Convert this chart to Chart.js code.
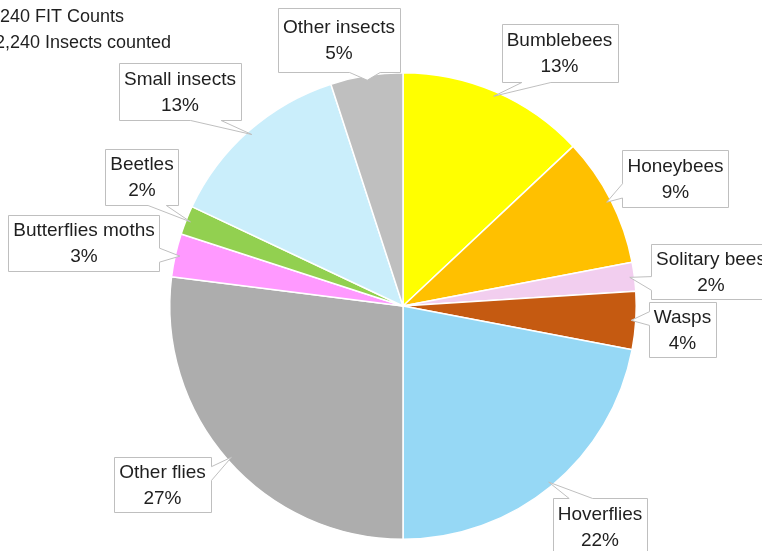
<!DOCTYPE html>
<html>
<head>
<meta charset="utf-8">
<title>FIT Counts</title>
<script src="https://cdn.jsdelivr.net/npm/chart.js@4"></script>
<style>
  html, body { margin: 0; padding: 0; background: #fff; overflow: hidden; }
  canvas { display: block; }
</style>
</head>
<body>
<canvas id="pieChart" width="762" height="551"></canvas>
<script>
// Insect groups (clockwise from 12 o'clock) and their share of the counts, %
const groups = ['Bumblebees', 'Honeybees', 'Solitary bees', 'Wasps', 'Hoverflies',
                'Other flies', 'Butterflies moths', 'Beetles', 'Small insects', 'Other insects'];
const shares = [13, 9, 2, 4, 22, 27, 3, 2, 13, 5];
const sliceColors = ['#FFFF00', '#FFC000', '#F2CEEF', '#C55A11', '#96D8F5',
                     '#ADADAD', '#FF99FF', '#92D050', '#CAEEFB', '#BFBFBF'];
const subtitleLines = ['240 FIT Counts', '2,240 Insects counted'];

// Callout boxes: centre x, centre y, box height
const calloutBoxes = [
    [559.5, 53, 58], [675.5, 178.5, 57], [711, 271.5, 55], [682.5, 329.5, 55],
    [600, 527, 58], [162.5, 484.5, 55], [84, 243, 56], [142, 177, 56],
    [180, 91.5, 57], [339, 40, 64]
];

const LABEL_FONT = '19px "Liberation Sans", Arial, sans-serif';

// Rectangle with a wedge tail pointing to (tx, ty), like an office "wedge callout"
function calloutPath(ctx, l, t, w, h, tx, ty) {
    const r = l + w, b = t + h;
    const hc = l + w / 2, vc = t + h / 2;
    const dxPos = tx - hc, dyPos = ty - vc;
    const inside = tx >= l && tx <= r && ty >= t && ty <= b;
    const x1 = l + w * (dxPos > 0 ? 7 : 2) / 12, x2 = l + w * (dxPos > 0 ? 10 : 5) / 12;
    const y1 = t + h * (dyPos > 0 ? 7 : 2) / 12, y2 = t + h * (dyPos > 0 ? 10 : 5) / 12;
    let side = '';
    if (!inside) {
        if (Math.abs(dxPos * h) > Math.abs(dyPos * w)) side = dxPos < 0 ? 'left' : 'right';
        else side = dyPos < 0 ? 'top' : 'bottom';
    }
    ctx.beginPath();
    ctx.moveTo(l, t);
    if (side === 'top') { ctx.lineTo(x1, t); ctx.lineTo(tx, ty); ctx.lineTo(x2, t); }
    ctx.lineTo(r, t);
    if (side === 'right') { ctx.lineTo(r, y1); ctx.lineTo(tx, ty); ctx.lineTo(r, y2); }
    ctx.lineTo(r, b);
    if (side === 'bottom') { ctx.lineTo(x2, b); ctx.lineTo(tx, ty); ctx.lineTo(x1, b); }
    ctx.lineTo(l, b);
    if (side === 'left') { ctx.lineTo(l, y2); ctx.lineTo(tx, ty); ctx.lineTo(l, y1); }
    ctx.closePath();
}

// Draws the data callouts and the subtitle lines
const calloutPlugin = {
    id: 'callouts',
    afterDatasetsDraw(chart) {
        const ctx = chart.ctx;
        const arcs = chart.getDatasetMeta(0).data;
        ctx.save();
        ctx.font = LABEL_FONT;
        arcs.forEach((arc, i) => {
            const p = arc.getProps(['x', 'y', 'startAngle', 'endAngle', 'outerRadius'], true);
            const mid = (p.startAngle + p.endAngle) / 2;
            const tx = p.x + Math.cos(mid) * p.outerRadius * 0.98;
            const ty = p.y + Math.sin(mid) * p.outerRadius * 0.98;

            const lines = [groups[i], shares[i] + '%'];
            const [cx, cy, h] = calloutBoxes[i];
            const w = Math.max(...lines.map(s => ctx.measureText(s).width)) + 10;
            const l = cx - w / 2, t = cy - h / 2;

            calloutPath(ctx, Math.round(l) + 0.5, Math.round(t) + 0.5, Math.round(w), Math.round(h), tx, ty);
            ctx.fillStyle = '#ffffff';
            ctx.fill();
            ctx.strokeStyle = '#BFBFBF';
            ctx.lineWidth = 1;
            ctx.stroke();

            ctx.fillStyle = '#1f1f1f';
            ctx.textAlign = 'center';
            ctx.textBaseline = 'middle';
            ctx.fillText(lines[0], cx, cy - 12);
            ctx.fillText(lines[1], cx, cy + 14);
        });

        // subtitle, top left
        ctx.font = '18px "Liberation Sans", Arial, sans-serif';
        ctx.textAlign = 'left';
        ctx.textBaseline = 'middle';
        ctx.fillStyle = '#1f1f1f';
        ctx.fillText(subtitleLines[0], 0, 17);
        ctx.fillText(subtitleLines[1], -5, 43);
        ctx.restore();
    }
};

new Chart(document.getElementById('pieChart').getContext('2d'), {
    type: 'pie',
    data: {
        labels: groups,
        datasets: [{
            data: shares,
            backgroundColor: sliceColors,
            borderColor: '#ffffff',
            borderWidth: 1.5
        }]
    },
    options: {
        responsive: false,
        animation: false,
        layout: { padding: { left: 169, right: 125, top: 72, bottom: 11 } },
        plugins: {
            legend: { display: false },
            tooltip: { enabled: false },
            title: { display: false }
        }
    },
    plugins: [calloutPlugin]
});
</script>
</body>
</html>
